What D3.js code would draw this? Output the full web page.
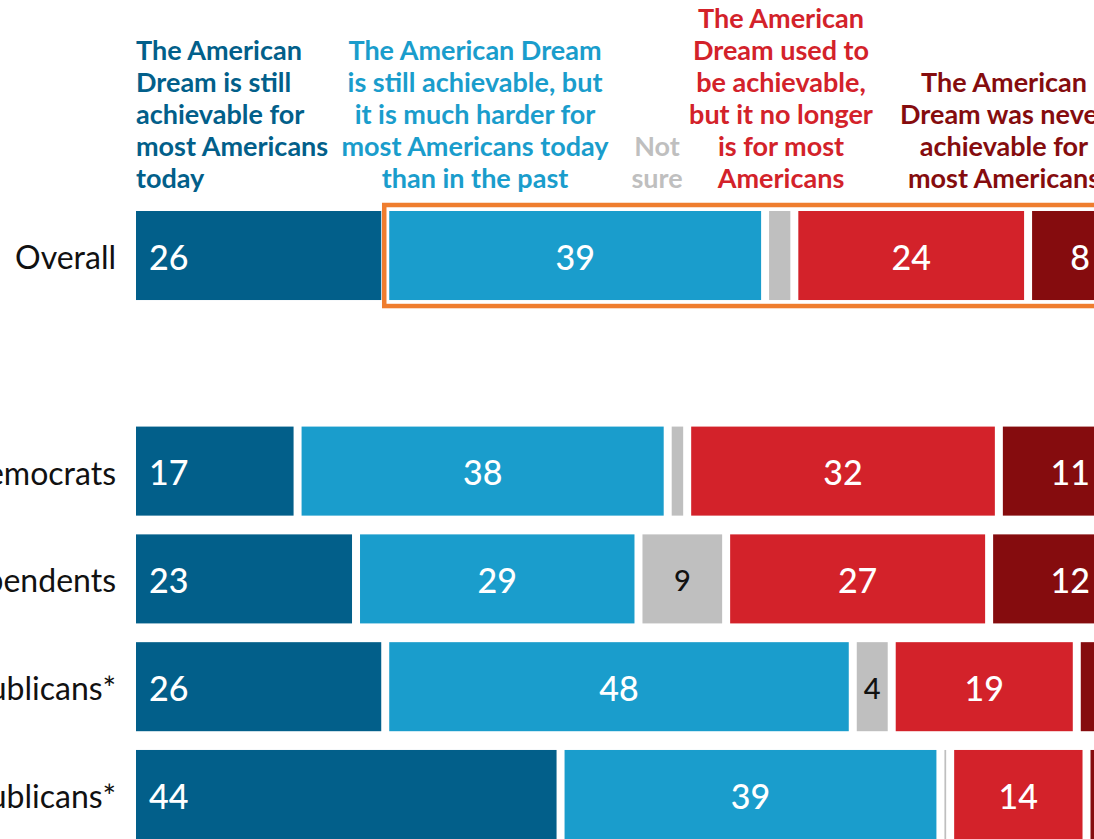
<!DOCTYPE html>
<html>
<head>
<meta charset="utf-8">
<script src="https://cdn.jsdelivr.net/npm/d3@7"></script>
<style>
  body { margin: 0; background: #fff; overflow: hidden; }
  svg { display: block; font-family: Lato, "Open Sans", sans-serif; }
</style>
</head>
<body>
<div id="chart"></div>
<script>
// survey groups (left labels are cut off in the original crop)
const groups = ["Overall", "Democrats", "Independents", "Non-MAGA Republicans*", "MAGA Republicans*"]

// answers, in percent
const stillAchievable = [26, 17, 23, 26, 44]
const harderToday = [39, 38, 29, 48, 39]
const notSure = [3, 2, 9, 4, 1]
const noLonger = [24, 32, 27, 19, 14]
const neverAchievable = [8, 11, 12, 3, 2]

const answerKeys = ["still", "harder", "unsure", "nolonger", "never"]
const answerHeads = [
    ["The American", "Dream is still", "achievable for", "most Americans", "today"],
    ["The American Dream", "is still achievable, but", "it is much harder for", "most Americans today", "than in the past"],
    ["Not", "sure"],
    ["The American", "Dream used to", "be achievable,", "but it no longer", "is for most", "Americans"],
    ["The American", "Dream was never", "achievable for", "most Americans"],
]

const colors = {
    still: "#025f8a",
    harder: "#1a9dcc",
    unsure: "#bfbfbf",
    nolonger: "#d3222a",
    never: "#850c0e",
}

const width = 1094
const height = 839
const gap = 4 // white space each side of a segment

const table = groups.map((g, i) => ({
    group: g,
    still: stillAchievable[i],
    harder: harderToday[i],
    unsure: notSure[i],
    nolonger: noLonger[i],
    never: neverAchievable[i],
}))

const series = d3.stack().keys(answerKeys)(table)

const x = d3.scaleLinear().domain([0, 100]).range([132, 1106])

// a blank slot between Overall and the party rows
const slots = ["Overall", "_spacer", ...groups.slice(1)]
const y = d3.scaleBand().domain(slots).range([211, 839]).paddingInner(0.174).paddingOuter(0)

const svg = d3.select("#chart").append("svg")
    .attr("width", width)
    .attr("height", height)

// column headings
const headPos = [
    { x: 136, anchor: "start" },
    { x: 475, anchor: "middle" },
    { x: 657, anchor: "middle" },
    { x: 781, anchor: "middle" },
    { x: 1004, anchor: "middle" },
]
const lineH = 32
const headBase = 188

svg.append("g").selectAll("text")
    .data(answerHeads)
    .join("text")
    .attr("x", (d, i) => headPos[i].x)
    .attr("text-anchor", (d, i) => headPos[i].anchor)
    .attr("fill", (d, i) => colors[answerKeys[i]])
    .style("font-size", "27px")
    .style("font-weight", 700)
    .each(function (lines, i) {
        d3.select(this).selectAll("tspan")
            .data(lines)
            .join("tspan")
            .attr("x", headPos[i].x)
            .attr("y", (l, j) => headBase - (lines.length - 1 - j) * lineH)
            .text(l => l)
    })

// bars
const layer = svg.append("g").selectAll("g")
    .data(series)
    .join("g")
    .attr("fill", d => colors[d.key])

layer.selectAll("rect")
    .data(d => d)
    .join("rect")
    .attr("x", d => x(d[0]) + gap)
    .attr("y", d => y(d.data.group))
    .attr("width", d => Math.max(0, x(d[1]) - x(d[0]) - 2 * gap))
    .attr("height", y.bandwidth())

// value labels
const lastKey = answerKeys[answerKeys.length - 1]
layer.each(function (s) {
    d3.select(this).selectAll("text")
        .data(s.filter(d => d[1] - d[0] >= 4))
        .join("text")
        .attr("x", d => {
            if (s.key === answerKeys[0]) return x(d[0]) + gap + 13
            if (s.key === lastKey) return x(d[1]) - gap - 12
            return (x(d[0]) + x(d[1])) / 2
        })
        .attr("y", d => y(d.data.group) + y.bandwidth() / 2 + 2)
        .attr("dy", "0.36em")
        .attr("text-anchor", s.key === answerKeys[0] ? "start" : s.key === lastKey ? "end" : "middle")
        .attr("fill", s.key === "unsure" ? "#111" : "#fff")
        .style("font-size", s.key === "unsure" ? "29px" : "34px")
        .style("font-weight", 500)
        .text(d => d[1] - d[0])
})

// group labels
svg.append("g").selectAll("text")
    .data(groups)
    .join("text")
    .attr("x", 116)
    .attr("y", d => y(d) + y.bandwidth() / 2 + 2)
    .attr("dy", "0.36em")
    .attr("text-anchor", "end")
    .attr("fill", "#111")
    .style("font-size", "32px")
    .text(d => d)

// orange highlight around the Overall answers other than "still achievable"
svg.append("rect")
    .attr("x", x(stillAchievable[0]) - 1)
    .attr("y", y("Overall") - 6)
    .attr("width", x(100) - x(stillAchievable[0]) + 10)
    .attr("height", y.bandwidth() + 12)
    .attr("fill", "none")
    .attr("stroke", "#ef7d2e")
    .attr("stroke-width", 4.5)
</script>
</body>
</html>
